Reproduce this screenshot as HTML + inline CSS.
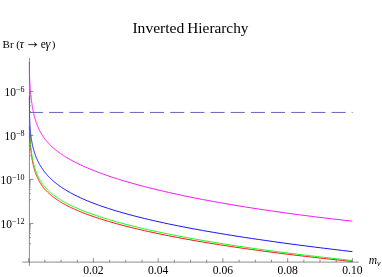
<!DOCTYPE html>
<html><head><meta charset="utf-8"><title>Inverted Hierarchy</title>
<style>html,body{margin:0;padding:0;background:#fff;width:382px;height:277px;overflow:hidden}body{font-family:"Liberation Serif",serif}</style></head>
<body>
<svg width="382" height="277" viewBox="0 0 382 277" style="position:absolute;left:0;top:0;will-change:transform">
<rect width="382" height="277" fill="#fff"/>
<g fill="none" stroke-width="0.92" stroke-linejoin="round">
<path d="M29.42 127.00 L29.42 127.04 L29.42 127.43 L29.43 127.80 L29.43 128.15 L29.44 128.49 L29.44 128.81 L29.45 129.12 L29.45 129.41 L29.45 129.69 L29.46 129.97 L29.46 130.23 L29.47 130.48 L29.48 130.72 L29.48 130.96 L29.49 131.18 L29.49 131.41 L29.50 131.62 L29.50 131.83 L29.51 132.03 L29.52 132.23 L29.53 132.43 L29.53 132.62 L29.54 132.81 L29.55 133.00 L29.55 133.19 L29.56 133.38 L29.57 133.56 L29.58 133.75 L29.59 133.93 L29.60 134.12 L29.61 134.31 L29.62 134.50 L29.63 134.69 L29.64 134.88 L29.65 135.08 L29.66 135.27 L29.67 135.47 L29.68 135.68 L29.69 135.88 L29.71 136.10 L29.72 136.31 L29.73 136.53 L29.75 136.75 L29.76 136.98 L29.78 137.21 L29.79 137.45 L29.81 137.69 L29.82 137.94 L29.84 138.19 L29.86 138.45 L29.87 138.72 L29.89 138.99 L29.91 139.26 L29.93 139.54 L29.95 139.83 L29.97 140.12 L29.99 140.42 L30.01 140.72 L30.04 141.03 L30.06 141.35 L30.08 141.67 L30.11 142.00 L30.13 142.33 L30.16 142.67 L30.19 143.02 L30.22 143.37 L30.25 143.73 L30.28 144.09 L30.31 144.46 L30.34 144.83 L30.37 145.21 L30.40 145.60 L30.44 145.99 L30.48 146.39 L30.51 146.79 L30.55 147.20 L30.59 147.61 L30.63 148.03 L30.67 148.46 L30.72 148.89 L30.76 149.32 L30.81 149.76 L30.86 150.20 L30.91 150.65 L30.96 151.10 L31.01 151.56 L31.06 152.02 L31.12 152.48 L31.18 152.95 L31.24 153.43 L31.30 153.91 L31.36 154.39 L31.43 154.87 L31.49 155.36 L31.56 155.85 L31.64 156.35 L31.71 156.85 L31.79 157.35 L31.87 157.85 L31.95 158.36 L32.03 158.87 L32.12 159.38 L32.21 159.90 L32.30 160.41 L32.39 160.94 L32.49 161.46 L32.59 161.98 L32.70 162.51 L32.80 163.04 L32.92 163.57 L33.03 164.10 L33.15 164.63 L33.27 165.17 L33.40 165.70 L33.53 166.24 L33.66 166.78 L33.80 167.32 L33.94 167.86 L34.09 168.41 L34.24 168.95 L34.40 169.49 L34.56 170.04 L34.72 170.58 L34.90 171.13 L35.07 171.68 L35.26 172.23 L35.45 172.77 L35.64 173.32 L35.84 173.87 L36.05 174.42 L36.26 174.97 L36.48 175.52 L36.71 176.07 L36.95 176.62 L37.19 177.17 L37.44 177.72 L37.70 178.27 L37.96 178.83 L38.24 179.38 L38.52 179.93 L38.81 180.48 L39.11 181.03 L39.42 181.58 L39.74 182.14 L40.08 182.69 L40.42 183.24 L40.77 183.79 L41.13 184.35 L41.51 184.90 L41.89 185.45 L42.29 186.01 L42.71 186.56 L43.13 187.11 L43.57 187.67 L44.02 188.22 L44.49 188.78 L44.97 189.34 L45.47 189.89 L45.98 190.45 L46.51 191.01 L47.05 191.57 L47.61 192.13 L48.19 192.69 L48.79 193.25 L49.41 193.82 L50.05 194.38 L50.71 194.95 L51.38 195.51 L52.08 196.08 L52.81 196.65 L53.55 197.23 L54.32 197.80 L55.11 198.38 L55.93 198.96 L56.77 199.54 L57.64 200.12 L58.54 200.70 L59.47 201.29 L60.43 201.88 L61.41 202.48 L62.43 203.07 L63.48 203.67 L64.56 204.27 L65.68 204.88 L66.83 205.49 L68.02 206.10 L69.25 206.71 L70.52 207.33 L71.82 207.96 L73.17 208.59 L74.56 209.22 L75.99 209.85 L77.47 210.49 L79.00 211.14 L80.58 211.79 L82.20 212.44 L83.88 213.10 L85.61 213.77 L87.39 214.44 L89.23 215.11 L91.13 215.79 L93.09 216.48 L95.11 217.17 L97.20 217.87 L99.35 218.57 L101.57 219.28 L103.86 220.00 L106.22 220.72 L108.66 221.45 L111.18 222.18 L113.77 222.93 L116.45 223.67 L119.21 224.43 L122.06 225.19 L125.00 225.96 L128.03 226.74 L131.16 227.52 L134.39 228.31 L137.72 229.11 L141.15 229.91 L144.70 230.72 L148.36 231.54 L152.13 232.37 L156.02 233.20 L160.04 234.05 L164.18 234.89 L168.45 235.75 L172.86 236.62 L177.41 237.49 L182.11 238.37 L186.95 239.25 L191.95 240.15 L197.10 241.05 L202.42 241.96 L207.91 242.88 L213.57 243.80 L219.41 244.73 L225.43 245.67 L231.65 246.61 L238.06 247.56 L244.67 248.52 L251.50 249.49 L258.54 250.46 L265.81 251.44 L273.30 252.42 L281.03 253.41 L289.01 254.41 L297.24 255.41 L305.73 256.41 L314.49 257.42 L323.53 258.44 L332.86 259.46 L342.48 260.49 L352.40 261.52" stroke="#ff0000"/>
<path d="M29.42 125.00 L29.42 125.08 L29.42 125.60 L29.43 126.10 L29.43 126.57 L29.44 127.02 L29.44 127.44 L29.45 127.83 L29.45 128.21 L29.45 128.56 L29.46 128.90 L29.46 129.21 L29.47 129.51 L29.48 129.79 L29.48 130.06 L29.49 130.31 L29.49 130.55 L29.50 130.78 L29.50 131.00 L29.51 131.21 L29.52 131.40 L29.53 131.59 L29.53 131.77 L29.54 131.95 L29.55 132.12 L29.55 132.28 L29.56 132.44 L29.57 132.60 L29.58 132.75 L29.59 132.90 L29.60 133.05 L29.61 133.19 L29.62 133.34 L29.63 133.49 L29.64 133.63 L29.65 133.78 L29.66 133.93 L29.67 134.08 L29.68 134.23 L29.69 134.38 L29.71 134.54 L29.72 134.70 L29.73 134.87 L29.75 135.03 L29.76 135.21 L29.78 135.38 L29.79 135.56 L29.81 135.75 L29.82 135.94 L29.84 136.14 L29.86 136.35 L29.87 136.56 L29.89 136.77 L29.91 136.99 L29.93 137.22 L29.95 137.46 L29.97 137.70 L29.99 137.95 L30.01 138.20 L30.04 138.46 L30.06 138.73 L30.08 139.01 L30.11 139.29 L30.13 139.59 L30.16 139.88 L30.19 140.19 L30.22 140.50 L30.25 140.82 L30.28 141.15 L30.31 141.48 L30.34 141.82 L30.37 142.17 L30.40 142.53 L30.44 142.89 L30.48 143.26 L30.51 143.64 L30.55 144.02 L30.59 144.41 L30.63 144.81 L30.67 145.21 L30.72 145.62 L30.76 146.04 L30.81 146.46 L30.86 146.89 L30.91 147.32 L30.96 147.76 L31.01 148.21 L31.06 148.66 L31.12 149.12 L31.18 149.58 L31.24 150.05 L31.30 150.52 L31.36 151.00 L31.43 151.49 L31.49 151.97 L31.56 152.47 L31.64 152.96 L31.71 153.47 L31.79 153.97 L31.87 154.48 L31.95 155.00 L32.03 155.51 L32.12 156.03 L32.21 156.56 L32.30 157.09 L32.39 157.62 L32.49 158.15 L32.59 158.69 L32.70 159.23 L32.80 159.77 L32.92 160.32 L33.03 160.87 L33.15 161.42 L33.27 161.97 L33.40 162.52 L33.53 163.08 L33.66 163.63 L33.80 164.19 L33.94 164.75 L34.09 165.32 L34.24 165.88 L34.40 166.44 L34.56 167.01 L34.72 167.58 L34.90 168.14 L35.07 168.71 L35.26 169.28 L35.45 169.85 L35.64 170.42 L35.84 170.99 L36.05 171.56 L36.26 172.13 L36.48 172.71 L36.71 173.28 L36.95 173.85 L37.19 174.42 L37.44 175.00 L37.70 175.57 L37.96 176.14 L38.24 176.71 L38.52 177.28 L38.81 177.86 L39.11 178.43 L39.42 179.00 L39.74 179.57 L40.08 180.14 L40.42 180.71 L40.77 181.29 L41.13 181.86 L41.51 182.43 L41.89 183.00 L42.29 183.57 L42.71 184.14 L43.13 184.71 L43.57 185.28 L44.02 185.85 L44.49 186.42 L44.97 186.99 L45.47 187.57 L45.98 188.14 L46.51 188.71 L47.05 189.28 L47.61 189.86 L48.19 190.43 L48.79 191.00 L49.41 191.58 L50.05 192.15 L50.71 192.73 L51.38 193.31 L52.08 193.89 L52.81 194.47 L53.55 195.05 L54.32 195.63 L55.11 196.22 L55.93 196.80 L56.77 197.39 L57.64 197.98 L58.54 198.57 L59.47 199.17 L60.43 199.77 L61.41 200.37 L62.43 200.97 L63.48 201.57 L64.56 202.18 L65.68 202.79 L66.83 203.41 L68.02 204.02 L69.25 204.64 L70.52 205.27 L71.82 205.90 L73.17 206.53 L74.56 207.17 L75.99 207.81 L77.47 208.45 L79.00 209.10 L80.58 209.76 L82.20 210.42 L83.88 211.08 L85.61 211.75 L87.39 212.43 L89.23 213.11 L91.13 213.79 L93.09 214.48 L95.11 215.18 L97.20 215.89 L99.35 216.60 L101.57 217.31 L103.86 218.04 L106.22 218.77 L108.66 219.50 L111.18 220.25 L113.77 221.00 L116.45 221.76 L119.21 222.52 L122.06 223.29 L125.00 224.07 L128.03 224.86 L131.16 225.66 L134.39 226.46 L137.72 227.27 L141.15 228.09 L144.70 228.91 L148.36 229.75 L152.13 230.59 L156.02 231.44 L160.04 232.30 L164.18 233.17 L168.45 234.04 L172.86 234.93 L177.41 235.82 L182.11 236.72 L186.95 237.63 L191.95 238.54 L197.10 239.47 L202.42 240.40 L207.91 241.34 L213.57 242.28 L219.41 243.24 L225.43 244.20 L231.65 245.17 L238.06 246.15 L244.67 247.14 L251.50 248.13 L258.54 249.13 L265.81 250.14 L273.30 251.15 L281.03 252.17 L289.01 253.19 L297.24 254.22 L305.73 255.26 L314.49 256.30 L323.53 257.35 L332.86 258.40 L342.48 259.45 L352.40 260.51" stroke="#00ff00"/>
<path d="M29.42 96.40 L29.42 97.25 L29.43 98.14 L29.43 99.00 L29.44 99.85 L29.44 100.67 L29.45 101.47 L29.45 102.25 L29.45 103.01 L29.46 103.75 L29.46 104.47 L29.47 105.17 L29.48 105.86 L29.48 106.53 L29.49 107.18 L29.49 107.82 L29.50 108.45 L29.50 109.05 L29.51 109.65 L29.52 110.23 L29.53 110.80 L29.53 111.35 L29.54 111.89 L29.55 112.42 L29.55 112.94 L29.56 113.45 L29.57 113.95 L29.58 114.44 L29.59 114.92 L29.60 115.39 L29.61 115.86 L29.62 116.31 L29.63 116.76 L29.64 117.20 L29.65 117.63 L29.66 118.05 L29.67 118.47 L29.68 118.89 L29.69 119.29 L29.71 119.70 L29.72 120.09 L29.73 120.49 L29.75 120.88 L29.76 121.26 L29.78 121.64 L29.79 122.02 L29.81 122.39 L29.82 122.76 L29.84 123.13 L29.86 123.50 L29.87 123.86 L29.89 124.22 L29.91 124.58 L29.93 124.94 L29.95 125.30 L29.97 125.65 L29.99 126.01 L30.01 126.36 L30.04 126.72 L30.06 127.07 L30.08 127.42 L30.11 127.78 L30.13 128.13 L30.16 128.48 L30.19 128.84 L30.22 129.19 L30.25 129.55 L30.28 129.90 L30.31 130.26 L30.34 130.62 L30.37 130.98 L30.40 131.34 L30.44 131.71 L30.48 132.07 L30.51 132.44 L30.55 132.81 L30.59 133.18 L30.63 133.55 L30.67 133.92 L30.72 134.30 L30.76 134.68 L30.81 135.06 L30.86 135.45 L30.91 135.83 L30.96 136.22 L31.01 136.61 L31.06 137.01 L31.12 137.40 L31.18 137.80 L31.24 138.21 L31.30 138.61 L31.36 139.02 L31.43 139.43 L31.49 139.85 L31.56 140.27 L31.64 140.69 L31.71 141.11 L31.79 141.54 L31.87 141.97 L31.95 142.40 L32.03 142.84 L32.12 143.28 L32.21 143.72 L32.30 144.17 L32.39 144.62 L32.49 145.07 L32.59 145.53 L32.70 145.99 L32.80 146.45 L32.92 146.92 L33.03 147.38 L33.15 147.86 L33.27 148.33 L33.40 148.81 L33.53 149.30 L33.66 149.78 L33.80 150.27 L33.94 150.76 L34.09 151.26 L34.24 151.76 L34.40 152.26 L34.56 152.76 L34.72 153.27 L34.90 153.79 L35.07 154.30 L35.26 154.82 L35.45 155.34 L35.64 155.86 L35.84 156.39 L36.05 156.92 L36.26 157.46 L36.48 157.99 L36.71 158.53 L36.95 159.08 L37.19 159.62 L37.44 160.17 L37.70 160.72 L37.96 161.28 L38.24 161.84 L38.52 162.40 L38.81 162.96 L39.11 163.53 L39.42 164.10 L39.74 164.67 L40.08 165.25 L40.42 165.83 L40.77 166.41 L41.13 167.00 L41.51 167.58 L41.89 168.17 L42.29 168.77 L42.71 169.36 L43.13 169.96 L43.57 170.56 L44.02 171.17 L44.49 171.78 L44.97 172.39 L45.47 173.00 L45.98 173.62 L46.51 174.24 L47.05 174.86 L47.61 175.48 L48.19 176.11 L48.79 176.74 L49.41 177.37 L50.05 178.01 L50.71 178.65 L51.38 179.29 L52.08 179.94 L52.81 180.59 L53.55 181.24 L54.32 181.89 L55.11 182.55 L55.93 183.21 L56.77 183.87 L57.64 184.54 L58.54 185.21 L59.47 185.88 L60.43 186.56 L61.41 187.23 L62.43 187.92 L63.48 188.60 L64.56 189.29 L65.68 189.98 L66.83 190.68 L68.02 191.38 L69.25 192.08 L70.52 192.79 L71.82 193.50 L73.17 194.21 L74.56 194.93 L75.99 195.65 L77.47 196.37 L79.00 197.10 L80.58 197.84 L82.20 198.57 L83.88 199.31 L85.61 200.06 L87.39 200.81 L89.23 201.56 L91.13 202.32 L93.09 203.08 L95.11 203.85 L97.20 204.62 L99.35 205.40 L101.57 206.18 L103.86 206.96 L106.22 207.76 L108.66 208.55 L111.18 209.35 L113.77 210.16 L116.45 210.97 L119.21 211.79 L122.06 212.61 L125.00 213.44 L128.03 214.28 L131.16 215.12 L134.39 215.96 L137.72 216.82 L141.15 217.68 L144.70 218.54 L148.36 219.41 L152.13 220.29 L156.02 221.18 L160.04 222.07 L164.18 222.97 L168.45 223.88 L172.86 224.79 L177.41 225.71 L182.11 226.64 L186.95 227.58 L191.95 228.52 L197.10 229.48 L202.42 230.44 L207.91 231.41 L213.57 232.38 L219.41 233.37 L225.43 234.37 L231.65 235.37 L238.06 236.38 L244.67 237.41 L251.50 238.44 L258.54 239.48 L265.81 240.53 L273.30 241.59 L281.03 242.66 L289.01 243.75 L297.24 244.84 L305.73 245.94 L314.49 247.06 L323.53 248.18 L332.86 249.32 L342.48 250.46 L352.40 251.62" stroke="#0000ff"/>
<path d="M29.42 62.00 L29.42 62.16 L29.42 63.07 L29.43 63.94 L29.43 64.77 L29.44 65.56 L29.44 66.31 L29.45 67.03 L29.45 67.72 L29.45 68.38 L29.46 69.00 L29.46 69.60 L29.47 70.17 L29.48 70.72 L29.48 71.24 L29.49 71.73 L29.49 72.21 L29.50 72.67 L29.50 73.10 L29.51 73.52 L29.52 73.92 L29.53 74.31 L29.53 74.68 L29.54 75.04 L29.55 75.39 L29.55 75.72 L29.56 76.05 L29.57 76.36 L29.58 76.67 L29.59 76.97 L29.60 77.26 L29.61 77.55 L29.62 77.83 L29.63 78.10 L29.64 78.37 L29.65 78.64 L29.66 78.90 L29.67 79.16 L29.68 79.43 L29.69 79.68 L29.71 79.94 L29.72 80.20 L29.73 80.46 L29.75 80.72 L29.76 80.98 L29.78 81.25 L29.79 81.51 L29.81 81.78 L29.82 82.06 L29.84 82.33 L29.86 82.61 L29.87 82.89 L29.89 83.18 L29.91 83.47 L29.93 83.76 L29.95 84.07 L29.97 84.37 L29.99 84.68 L30.01 85.00 L30.04 85.32 L30.06 85.65 L30.08 85.98 L30.11 86.32 L30.13 86.67 L30.16 87.02 L30.19 87.38 L30.22 87.75 L30.25 88.12 L30.28 88.50 L30.31 88.88 L30.34 89.27 L30.37 89.67 L30.40 90.08 L30.44 90.49 L30.48 90.91 L30.51 91.33 L30.55 91.76 L30.59 92.20 L30.63 92.64 L30.67 93.09 L30.72 93.55 L30.76 94.01 L30.81 94.48 L30.86 94.96 L30.91 95.44 L30.96 95.92 L31.01 96.42 L31.06 96.91 L31.12 97.42 L31.18 97.93 L31.24 98.44 L31.30 98.96 L31.36 99.49 L31.43 100.02 L31.49 100.55 L31.56 101.09 L31.64 101.64 L31.71 102.18 L31.79 102.74 L31.87 103.30 L31.95 103.86 L32.03 104.42 L32.12 104.99 L32.21 105.57 L32.30 106.14 L32.39 106.72 L32.49 107.31 L32.59 107.89 L32.70 108.48 L32.80 109.07 L32.92 109.67 L33.03 110.27 L33.15 110.87 L33.27 111.47 L33.40 112.08 L33.53 112.68 L33.66 113.29 L33.80 113.91 L33.94 114.52 L34.09 115.13 L34.24 115.75 L34.40 116.37 L34.56 116.99 L34.72 117.61 L34.90 118.23 L35.07 118.85 L35.26 119.48 L35.45 120.10 L35.64 120.73 L35.84 121.36 L36.05 121.99 L36.26 122.61 L36.48 123.24 L36.71 123.87 L36.95 124.50 L37.19 125.13 L37.44 125.76 L37.70 126.40 L37.96 127.03 L38.24 127.66 L38.52 128.29 L38.81 128.93 L39.11 129.56 L39.42 130.19 L39.74 130.83 L40.08 131.46 L40.42 132.10 L40.77 132.73 L41.13 133.37 L41.51 134.00 L41.89 134.64 L42.29 135.27 L42.71 135.91 L43.13 136.55 L43.57 137.18 L44.02 137.82 L44.49 138.46 L44.97 139.10 L45.47 139.74 L45.98 140.38 L46.51 141.02 L47.05 141.67 L47.61 142.31 L48.19 142.96 L48.79 143.60 L49.41 144.25 L50.05 144.90 L50.71 145.55 L51.38 146.20 L52.08 146.86 L52.81 147.51 L53.55 148.17 L54.32 148.83 L55.11 149.49 L55.93 150.16 L56.77 150.82 L57.64 151.49 L58.54 152.17 L59.47 152.84 L60.43 153.52 L61.41 154.20 L62.43 154.89 L63.48 155.58 L64.56 156.27 L65.68 156.96 L66.83 157.66 L68.02 158.37 L69.25 159.07 L70.52 159.79 L71.82 160.50 L73.17 161.23 L74.56 161.95 L75.99 162.68 L77.47 163.42 L79.00 164.16 L80.58 164.91 L82.20 165.66 L83.88 166.42 L85.61 167.18 L87.39 167.95 L89.23 168.73 L91.13 169.51 L93.09 170.30 L95.11 171.10 L97.20 171.90 L99.35 172.71 L101.57 173.52 L103.86 174.35 L106.22 175.18 L108.66 176.01 L111.18 176.86 L113.77 177.71 L116.45 178.57 L119.21 179.44 L122.06 180.31 L125.00 181.19 L128.03 182.08 L131.16 182.98 L134.39 183.89 L137.72 184.80 L141.15 185.72 L144.70 186.65 L148.36 187.59 L152.13 188.54 L156.02 189.49 L160.04 190.45 L164.18 191.42 L168.45 192.40 L172.86 193.39 L177.41 194.38 L182.11 195.38 L186.95 196.39 L191.95 197.40 L197.10 198.43 L202.42 199.46 L207.91 200.49 L213.57 201.54 L219.41 202.59 L225.43 203.64 L231.65 204.71 L238.06 205.77 L244.67 206.85 L251.50 207.93 L258.54 209.01 L265.81 210.10 L273.30 211.20 L281.03 212.30 L289.01 213.40 L297.24 214.50 L305.73 215.61 L314.49 216.72 L323.53 217.83 L332.86 218.95 L342.48 220.06 L352.40 221.18" stroke="#ff00ff"/>
</g>
<path d="M29.0 112.45H352.6" stroke="#6868ba" stroke-width="1" stroke-dasharray="14.1 6.07" fill="none"/>
<path d="M22.3 262.1H358.8 M29.42 58V266 M28.70 262.1v-4 M44.88 262.1v-2.4 M61.07 262.1v-2.4 M77.25 262.1v-2.4 M93.44 262.1v-4 M109.62 262.1v-2.4 M125.81 262.1v-2.4 M141.99 262.1v-2.4 M158.18 262.1v-4 M174.36 262.1v-2.4 M190.55 262.1v-2.4 M206.73 262.1v-2.4 M222.92 262.1v-4 M239.10 262.1v-2.4 M255.29 262.1v-2.4 M271.47 262.1v-2.4 M287.66 262.1v-4 M303.84 262.1v-2.4 M320.03 262.1v-2.4 M336.21 262.1v-2.4 M352.40 262.1v-4 M29.42 91.40h4 M29.42 92.51h1.4 M29.42 93.77h1.4 M29.42 95.23h1.4 M29.42 96.94h1.4 M29.42 99.03h1.4 M29.42 101.71h1.4 M29.42 105.44h1.4 M29.42 111.66h1.4 M29.42 135.40h4 M29.42 136.51h1.4 M29.42 137.77h1.4 M29.42 139.23h1.4 M29.42 140.94h1.4 M29.42 143.03h1.4 M29.42 145.71h1.4 M29.42 149.44h1.4 M29.42 155.66h1.4 M29.42 179.40h4 M29.42 180.51h1.4 M29.42 181.77h1.4 M29.42 183.23h1.4 M29.42 184.94h1.4 M29.42 187.03h1.4 M29.42 189.71h1.4 M29.42 193.44h1.4 M29.42 199.66h1.4 M29.42 223.40h4 M29.42 224.51h1.4 M29.42 225.77h1.4 M29.42 227.23h1.4 M29.42 228.94h1.4 M29.42 231.03h1.4 M29.42 233.71h1.4 M29.42 237.44h1.4 M29.42 243.66h1.4" stroke="#5c5c5c" stroke-width="0.7" fill="none"/>
<g font-family="Liberation Serif, serif" fill="#000">
<text x="132.4" y="33.1" font-size="15.6">Inverted</text><text x="187.3" y="33.1" font-size="15.3">Hierarchy</text>
<text y="47.7" font-size="11"><tspan x="2.6">Br</tspan><tspan x="16.2">(</tspan><tspan x="19.4" font-style="italic" font-size="12.5">τ</tspan><tspan x="40.8" font-size="11.5">e</tspan><tspan x="45.5" font-style="italic" font-size="12.5">γ</tspan><tspan x="51.7">)</tspan></text>
<path d="M28.3 44.6H36.4" stroke="#000" stroke-width="0.8" fill="none"/><path d="M37.1 44.6C35.9 44.2 35 43.5 34.4 42.3C35.1 43.6 35.4 44.1 35.5 44.6C35.4 45.1 35.1 45.6 34.4 46.9C35 45.7 35.9 45 37.1 44.6Z" fill="#000" stroke="#000" stroke-width="0.5" stroke-linejoin="round"/>
<text x="24.45" text-anchor="end" y="96.0" font-size="11.5">10<tspan dy="-4.0" font-size="8">−6</tspan></text>
<text x="24.45" text-anchor="end" y="140.0" font-size="11.5">10<tspan dy="-4.0" font-size="8">−8</tspan></text>
<text x="24.45" text-anchor="end" y="184.0" font-size="11.5">10<tspan dy="-4.0" font-size="8">−10</tspan></text>
<text x="24.45" text-anchor="end" y="228.0" font-size="11.5">10<tspan dy="-4.0" font-size="8">−12</tspan></text>
<text x="93.4" y="273.6" font-size="11.6" text-anchor="middle">0.02</text>
<text x="158.2" y="273.6" font-size="11.6" text-anchor="middle">0.04</text>
<text x="222.9" y="273.6" font-size="11.6" text-anchor="middle">0.06</text>
<text x="287.7" y="273.6" font-size="11.6" text-anchor="middle">0.08</text>
<text x="352.4" y="273.6" font-size="11.6" text-anchor="middle">0.10</text>
<text x="368.8" y="263.7" font-size="11.5" font-style="italic">m<tspan dy="1.8" font-size="8">ν</tspan></text>
</g>
</svg>
</body></html>
